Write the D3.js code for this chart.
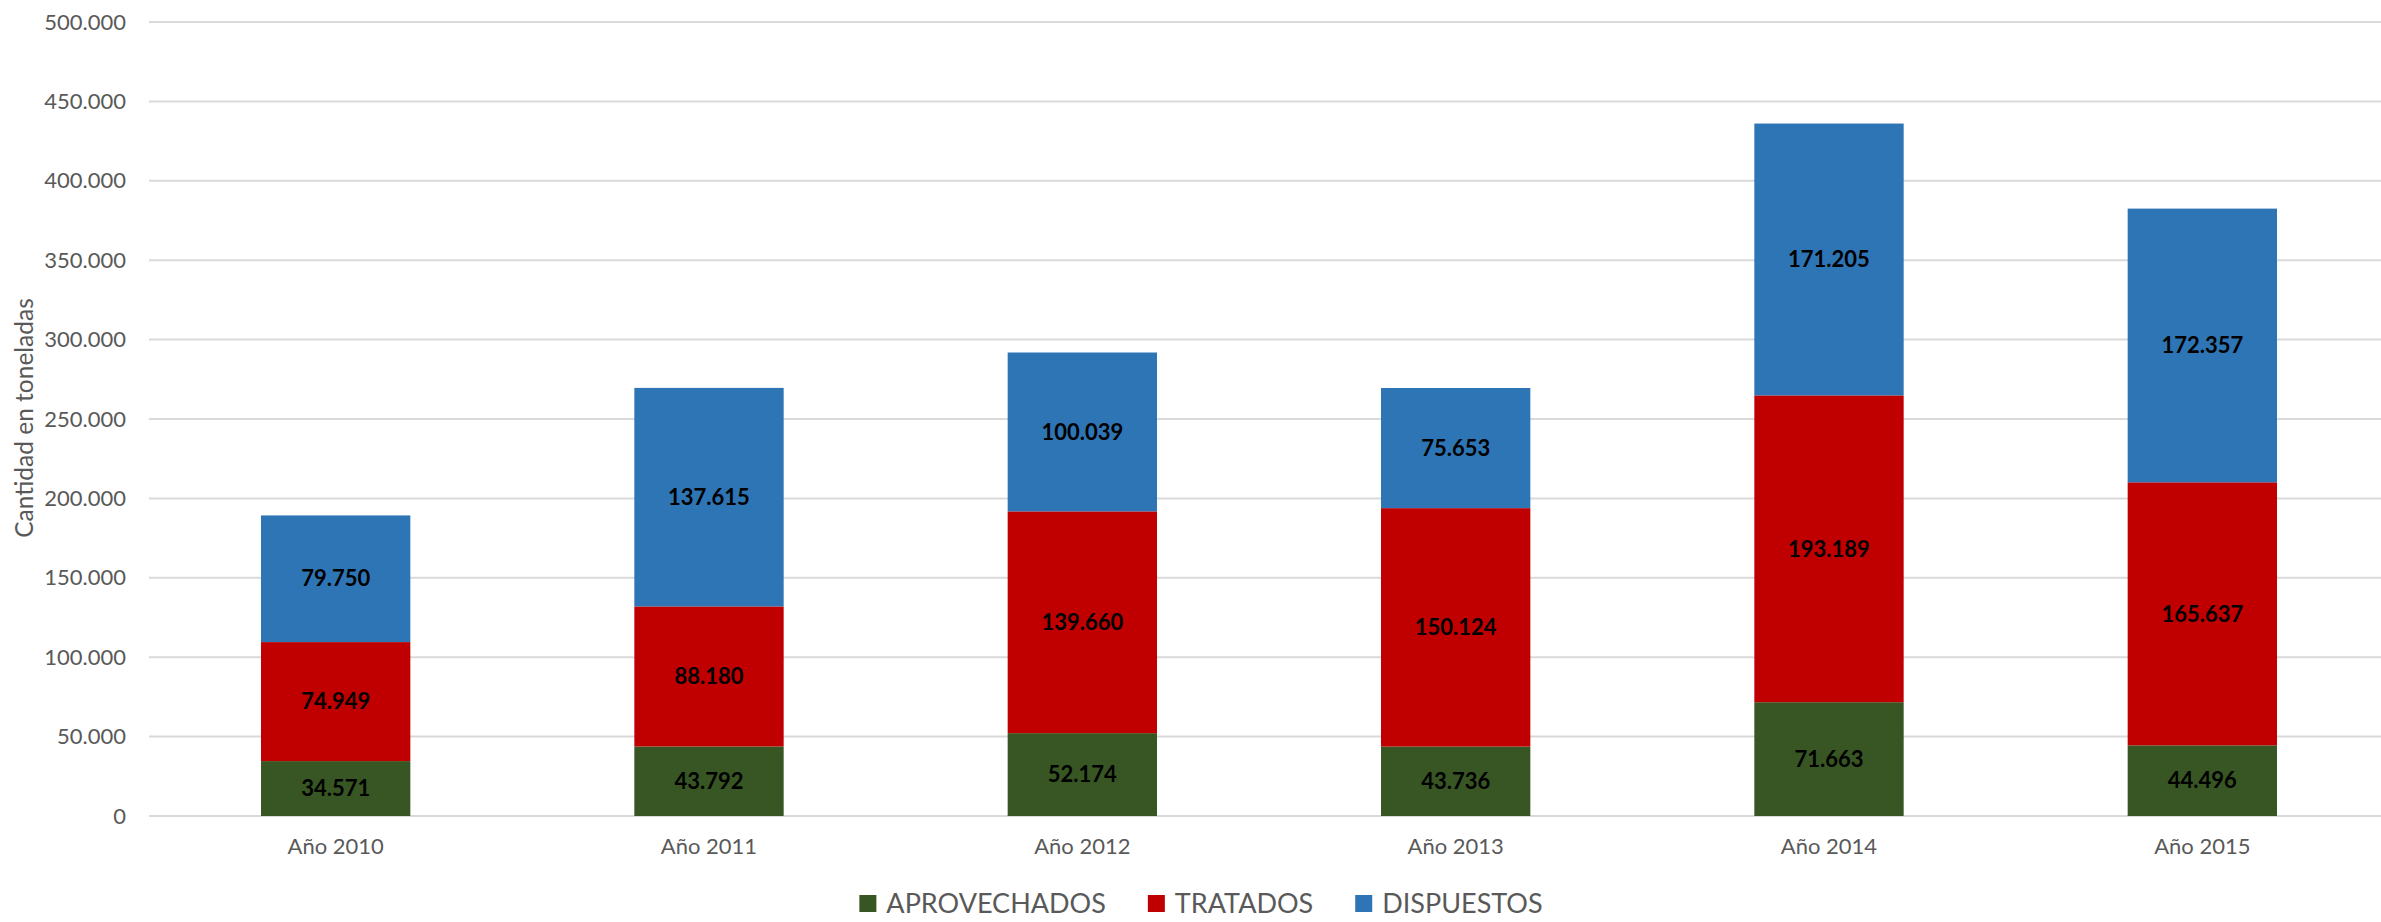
<!DOCTYPE html>
<html>
<head>
<meta charset="utf-8">
<script src="https://cdn.jsdelivr.net/npm/d3@7"></script>
<style>
body{margin:0;background:#fff;}
text{font-family:Lato,"Open Sans",sans-serif;}
.tick text{fill:#595959;font-size:22px;}
.label{fill:#595959;font-size:24.5px;}
.barLabel{fill:#000;font-size:22px;font-weight:bold;}
.legendEntry text{fill:#595959;font-size:27px;}
</style>
</head>
<body>
<svg id="chart"></svg>
<script>
//data
var years = ["Año 2010","Año 2011","Año 2012","Año 2013","Año 2014","Año 2015"]
var aprovechados = [34571,43792,52174,43736,71663,44496]
var tratados = [74949,88180,139660,150124,193189,165637]
var dispuestos = [79750,137615,100039,75653,171205,172357]
var seriesNames = ["APROVECHADOS","TRATADOS","DISPUESTOS"]
var seriesColors = ["#375623","#C00000","#2E75B6"]
var yTicks = [0,50000,100000,150000,200000,250000,300000,350000,400000,450000,500000]

var locale = d3.formatLocale({decimal:",",thousands:".",grouping:[3],currency:["",""]})
var fmt = locale.format(",d")

var initGraph = function()
{
    var screen = {width:2381,height:922}
    var margins = {left:149,top:22}
    var graph = {width:2240,height:794}

    var svg = d3.select("#chart")
        .attr("width",screen.width)
        .attr("height",screen.height)

    // rows for stacking
    var rows = years.map(function(y,i){
        return {year:y,APROVECHADOS:aprovechados[i],TRATADOS:tratados[i],DISPUESTOS:dispuestos[i]}
    })
    var stack = d3.stack().keys(seriesNames)(rows)

    var xScale = d3.scaleBand()
        .domain(years)
        .range([0,graph.width])
        .paddingInner(0.6)
        .paddingOuter(0.3)
    var yScale = d3.scaleLinear()
        .domain([0,500000])
        .range([graph.height,0])
    var colorScale = d3.scaleOrdinal()
        .domain(seriesNames)
        .range(seriesColors)

    var target = svg.append("g")
        .attr("transform","translate("+margins.left+","+margins.top+")")

    //gridlines
    target.append("g")
        .selectAll("line")
        .data(yTicks)
        .enter()
        .append("line")
        .attr("x1",0)
        .attr("x2",graph.width)
        .attr("y1",function(d){return yScale(d)})
        .attr("y2",function(d){return yScale(d)})
        .attr("stroke","#D9D9D9")
        .attr("stroke-width",2)

    //y axis
    var yAxis = d3.axisLeft(yScale)
        .tickValues(yTicks)
        .tickSize(0)
        .tickPadding(23)
        .tickFormat(function(d){return fmt(d)})
    target.append("g").call(yAxis)
        .call(function(g){g.select(".domain").remove()})

    //x axis
    var xAxis = d3.axisBottom(xScale)
        .tickSize(0)
        .tickPadding(22)
    target.append("g")
        .attr("transform","translate(0,"+graph.height+")")
        .call(xAxis)
        .call(function(g){g.select(".domain").remove()})

    //bars
    var layers = target.selectAll(".layer")
        .data(stack)
        .enter()
        .append("g")
        .classed("layer",true)
        .attr("fill",function(s){return colorScale(s.key)})

    layers.selectAll("rect")
        .data(function(s){return s})
        .enter()
        .append("rect")
        .attr("x",function(d){return xScale(d.data.year)})
        .attr("y",function(d){return yScale(d[1])})
        .attr("width",xScale.bandwidth())
        .attr("height",function(d){return yScale(d[0])-yScale(d[1])})

    //bar labels
    layers.selectAll("text")
        .data(function(s){return s})
        .enter()
        .append("text")
        .classed("barLabel",true)
        .attr("text-anchor","middle")
        .attr("dy","0.35em")
        .attr("x",function(d){return xScale(d.data.year)+xScale.bandwidth()/2})
        .attr("y",function(d){return (yScale(d[0])+yScale(d[1]))/2})
        .text(function(d){return fmt(d[1]-d[0])})

    //y label
    svg.append("g")
        .attr("transform","translate(24,418)")
        .append("text")
        .text("Cantidad en toneladas")
        .classed("label",true)
        .attr("text-anchor","middle")
        .attr("dy","0.35em")
        .attr("transform","rotate(270)")

    drawLegend(svg)
}

var drawLegend = function(svg)
{
    var legend = svg.append("g").classed("legend",true)
    var entries = legend.selectAll("g")
        .data(seriesNames)
        .enter()
        .append("g")
        .classed("legendEntry",true)
    entries.append("rect")
        .attr("width",17)
        .attr("height",17)
        .attr("y",-9)
        .attr("fill",function(d,i){return seriesColors[i]})
    entries.append("text")
        .text(function(d){return d})
        .attr("x",27)
        .attr("dy","0.35em")

    var gap = 42
    var widths = []
    entries.each(function(){
        widths.push(27+d3.select(this).select("text").node().getComputedTextLength())
    })
    var total = d3.sum(widths)+gap*(widths.length-1)
    var x = 1201-total/2
    entries.attr("transform",function(d,i){
        var t = "translate("+x+",904)"
        x += widths[i]+gap
        return t
    })
}

initGraph()
</script>
</body>
</html>
